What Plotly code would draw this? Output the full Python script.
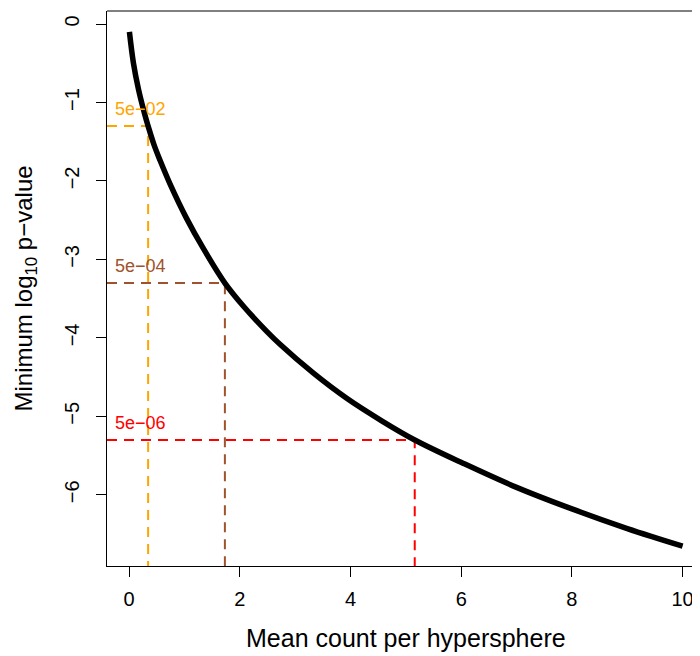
import plotly.graph_objects as go

# Curve (mean count vs minimum log10 p-value)
mean_count = [0.005, 0.078, 0.168, 0.289, 0.343, 0.45, 0.56, 0.74, 1.04, 1.34, 1.73,
              2.07, 2.49, 2.73, 3.33, 3.93, 4.57, 5.16, 6.04, 7.0, 8.0, 9.0, 10.0]
min_log10_p = [-0.10, -0.50, -0.83, -1.17, -1.301, -1.54, -1.74, -2.04, -2.48, -2.86, -3.301,
               -3.60, -3.92, -4.085, -4.45, -4.77, -5.06, -5.301, -5.60, -5.905, -6.18, -6.43, -6.654]

# Threshold guide lines
thr_labels = ["5e\u221202", "5e\u221204", "5e\u221206"]
thr_logp = [-1.301, -3.301, -5.301]
thr_x = [0.343, 1.73, 5.16]
thr_colors = ["#FFA500", "#A0522D", "#FF0000"]

x_ticks = [0, 2, 4, 6, 8, 10]
y_ticks = [0, -1, -2, -3, -4, -5, -6]

X_RANGE = [-0.4, 10.314]
Y_RANGE = [-6.907, 0.166]

fig = go.Figure()

for lab, yv, xv, col in zip(thr_labels, thr_logp, thr_x, thr_colors):
    fig.add_trace(go.Scatter(x=[X_RANGE[0], xv, xv], y=[yv, yv, Y_RANGE[0]],
                             mode="lines", line=dict(color=col, width=2, dash="10px,7px"),
                             hoverinfo="skip", showlegend=False))
    fig.add_annotation(x=-0.3, y=yv + 0.212, text=lab, showarrow=False,
                       xanchor="left", yanchor="middle",
                       font=dict(family="Liberation Sans, Arial", size=18, color=col))

fig.add_trace(go.Scatter(x=mean_count, y=min_log10_p, mode="lines",
                         line=dict(color="black", width=5.5, shape="spline", smoothing=1.0),
                         showlegend=False))

font = dict(family="Liberation Sans, Arial, sans-serif", size=20, color="black")

# page body adds an 8px offset; figure sized to fill the rest of the window
fig.update_layout(
    width=692, height=648,
    margin=dict(l=99, r=0, t=3, b=90, autoexpand=False),
    paper_bgcolor="white", plot_bgcolor="white",
    font=font,
    xaxis=dict(range=X_RANGE, tickvals=x_ticks, ticks="outside", ticklen=10,
               tickcolor="black", showline=True, linecolor="black", linewidth=1,
               showgrid=False, zeroline=False, tickfont=font, automargin=False,
               ticklabelstandoff=5),
    yaxis=dict(range=Y_RANGE, tickvals=y_ticks, ticks="outside", ticklen=10,
               tickcolor="black", showline=True, linecolor="black", linewidth=1,
               showgrid=False, zeroline=False, tickangle=-90, tickfont=font,
               automargin=False, ticklabelstandoff=9),
    shapes=[dict(type="line", xref="paper", yref="paper", x0=0, x1=1, y0=1, y1=1,
                 line=dict(color="black", width=1))],
)

fig.add_annotation(xref="paper", yref="paper", x=(406 - 107) / 593, y=(566 - 638) / 555,
                   text="Mean count per hypersphere", showarrow=False,
                   xanchor="center", yanchor="middle",
                   font=dict(family="Liberation Sans, Arial", size=25, color="black"))
fig.add_annotation(xref="paper", yref="paper", x=(25 - 107) / 593, y=0.5,
                   text="Minimum log<sub>10</sub> p\u2212value", showarrow=False,
                   textangle=-90, xanchor="center", yanchor="middle",
                   font=dict(family="Liberation Sans, Arial", size=24, color="black"))

fig.write_html("out.html")
